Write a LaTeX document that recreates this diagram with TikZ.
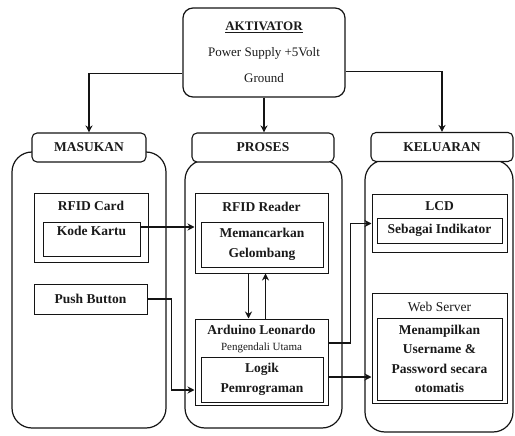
\documentclass[tikz,border=0pt]{standalone}
\usepackage{fontspec}
\setmainfont{Liberation Serif}
\usetikzlibrary{arrows.meta, positioning}
\definecolor{linecolor}{HTML}{141414}
\definecolor{textcolor}{HTML}{1A1A1A}
\tikzset{
  aktbox/.style={
    draw=linecolor,
    line width=1.2pt,
    rounded corners=10pt,
    align=center,
    text=textcolor,
    font=\fontsize{13}{15}\selectfont,
    inner sep=0pt
  },
  headbox/.style={
    draw=linecolor,
    fill=white,
    line width=1.1pt,
    rounded corners=5pt,
    align=center,
    text=textcolor,
    font=\fontsize{13.5}{15}\selectfont\bfseries,
    inner sep=0pt,
    minimum height=29pt
  },
  container/.style={
    draw=linecolor,
    line width=1.2pt,
    rounded corners=20pt
  },
  outerbox/.style={
    draw=linecolor,
    line width=1pt,
    inner sep=0pt
  },
  innerbox/.style={
    draw=linecolor,
    line width=1pt,
    align=center,
    text=textcolor,
    font=\fontsize{13.5}{19.5}\selectfont\bfseries,
    inner sep=0pt
  },
  boxtitle/.style={
    anchor=north,
    align=center,
    text=textcolor,
    font=\fontsize{13.5}{16}\selectfont\bfseries,
    inner sep=0pt
  },
  arrowline/.style={
    -{Stealth[length=7pt, width=7pt]},
    line width=1.3pt,
    color=linecolor
  }
}

\begin{document}
\begin{tikzpicture}[x=1pt, y=-1pt]

  \useasboundingbox (0,0) rectangle (515,436);

  % ==================== AKTIVATOR ====================
  \node (aktivator) [aktbox, minimum width=162pt, minimum height=89pt] at (264,52.5)
    {\textbf{\underline{AKTIVATOR}}\\[11pt]Power Supply +5Volt\\[11pt]Ground};

  % ==================== CONTAINERS ====================
  \node (masukan) [container, minimum width=154pt, minimum height=276pt] at (89,290) {};
  \node (proses) [container, minimum width=157pt, minimum height=268pt] at (263.5,294) {};
  \node (keluaran) [container, minimum width=148pt, minimum height=272pt] at (439,296) {};

  \node (masukanhead) [headbox, minimum width=114pt] at (89,147.5) {MASUKAN};
  \node (proseshead) [headbox, minimum width=142pt] at (263,147.5) {PROSES};
  \node (keluaranhead) [headbox, minimum width=142pt] at (442,147) {KELUARAN};

  % ==================== MASUKAN ====================
  \node (rfidcard) [outerbox, minimum width=114pt, minimum height=68pt,
    label={[boxtitle, yshift=-7pt]north:RFID Card}] at (91,228) {};
  \node (kodekartu) [innerbox, minimum width=97pt, text height=11pt, text depth=17pt, inner ysep=3pt] at (91.5,239) {Kode Kartu};

  \node (pushbutton) [innerbox, minimum width=113pt, minimum height=30pt] at (90.5,299) {Push Button};

  % ==================== PROSES ====================
  \node (rfidreader) [outerbox, minimum width=133pt, minimum height=79pt,
    label={[boxtitle, yshift=-8pt]north:RFID Reader}] at (261.5,233.5) {};
  \node (memancarkan) [innerbox, minimum width=122pt, minimum height=45pt] at (262,244.5) {Memancarkan\\Gelombang};

  \node (arduino) [outerbox, minimum width=133pt, minimum height=86pt,
    label={[boxtitle, yshift=-6pt]north:Arduino Leonardo\\{\fontsize{11}{12}\selectfont\mdseries Pengendali Utama}}] at (261.5,362) {};
  \node (logik) [innerbox, minimum width=122pt, minimum height=45pt] at (262,379.5) {Logik\\Pemrograman};

  % ==================== KELUARAN ====================
  \node (lcd) [outerbox, minimum width=135pt, minimum height=57pt,
    label={[boxtitle, yshift=-7pt]north:LCD}] at (439.5,223.5) {};
  \node (indikator) [innerbox, minimum width=125pt, minimum height=25pt] at (439.5,230.5) {Sebagai Indikator};

  \node (webserver) [outerbox, minimum width=135pt, minimum height=110pt,
    label={[boxtitle, yshift=-9pt, font=\fontsize{13.5}{16}\selectfont]north:Web Server}] at (439.5,348) {};
  \node (menampilkan) [innerbox, minimum width=125pt, minimum height=82pt] at (439.5,359) {Menampilkan\\Username \&\\Password secara\\otomatis};

  % Connectors Aktivator
  \draw [arrowline] ([yshift=-21pt]aktivator.west) -| (masukanhead.north);
  \draw [arrowline] (aktivator.south) -- (proseshead.north -| aktivator.south);
  \draw [arrowline] ([yshift=-19pt]aktivator.east) -| (keluaranhead.north);

  % Connectors Masukan
  \draw [arrowline] ([yshift=12pt]kodekartu.east) coordinate (kk) -- (kk -| rfidreader.west);
  \draw [arrowline] (pushbutton.east) -- ++(24,0) |- ([yshift=-28pt]arduino.west);

  % Connectors Proses
  \draw [arrowline] ([xshift=-13pt]rfidreader.south) -- ([xshift=-13pt]arduino.north);
  \draw [arrowline] ([xshift=4pt]arduino.north) -- ([xshift=4pt]rfidreader.south);

  % Connectors Keluaran
  \draw [arrowline] ([yshift=19pt]arduino.east) -- ++(22,0) |- (lcd.west);
  \draw [arrowline] ([yshift=-15pt]arduino.east) coordinate (ae) -- (ae -| webserver.west);

\end{tikzpicture}
\end{document}
